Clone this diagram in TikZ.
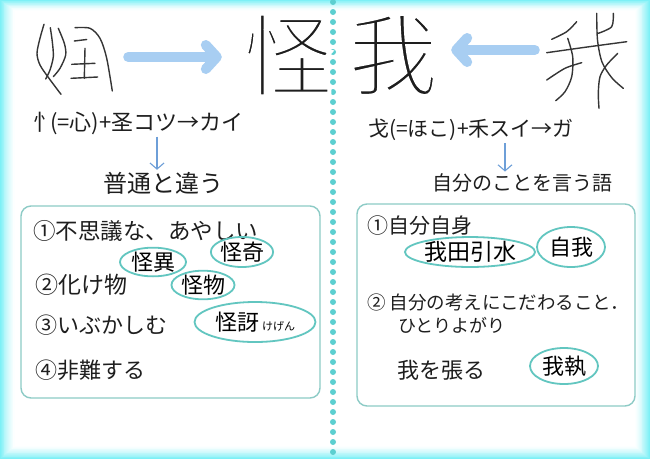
\documentclass[tikz,border=0pt]{standalone}
\usepackage{fontspec}
\setmainfont{Noto Sans CJK JP}
\usetikzlibrary{arrows.meta,shapes.geometric}
\definecolor{glow}{HTML}{7DF0F6}
\definecolor{dotc}{HTML}{5CCFD0}
\definecolor{ringc}{HTML}{62C6C0}
\definecolor{boxc}{HTML}{8DCBC6}
\definecolor{arrowc}{HTML}{A8CEF2}
\definecolor{thinarrowc}{HTML}{6E9FD8}
\definecolor{ink}{HTML}{1E1E1E}
\newcommand\thinglyph[1]{\special{pdf:literal direct 2 Tr 4 w 1 1 1 RG}#1\special{pdf:literal direct 0 Tr}}
\tikzset{
  txt/.style={inner sep=0pt, text=ink, font=\fontsize{#1}{#1}\selectfont},
  ring/.style={ellipse, draw=ringc, line width=1.8pt, inner sep=0pt},
  notebox/.style={draw=boxc, line width=1.4pt, rounded corners=10pt, inner sep=0pt},
  sealstroke/.style={draw=ink!90, line width=1.4pt, line cap=round, line join=round},
  bigarrow/.style={draw=arrowc, line width=10pt, line cap=round,
     -{Straight Barb[round,length=11pt,width=24pt]}},
  thinarr/.style={draw=thinarrowc, line width=1.1pt,
     -{Straight Barb[length=6pt,width=14pt]}},
  sealbox/.style={inner sep=0pt, minimum width=#1, minimum height=76pt},
}
\begin{document}
\begin{tikzpicture}[x=1pt,y=-1pt]
\useasboundingbox (0,0) rectangle (650,459);
\fill[white] (0,0) rectangle (650,459);
% glow border
\foreach \i in {0,...,15} {
  \pgfmathsetmacro\p{100*(1-\i/16)^1.4}
  \draw[draw=glow!\p!white, line width=1.3pt]
    (\i*0.9+0.6, \i*0.65+0.6) rectangle (650-\i*0.95-0.6, 459-\i*0.8-0.6);
}
% dotted divider
\foreach \y in {2,12,...,459} \fill[dotc] (333,\y) circle (3);

% ---------- left half ----------
\node[sealbox=80pt] (sealL) at (73,57) {};
\draw[sealstroke] plot[smooth] coordinates {(44,24.3) (40,38.3) (37,53.3) (40,65) (49,78.3) (61,94.3)};
\draw[sealstroke] plot[smooth] coordinates {(50.3,27.7) (52.3,41.7) (53.3,56.7) (50,70) (45.7,79)};
\draw[sealstroke] plot[smooth] coordinates {(58.3,28.3) (64.3,43.3) (65.7,55) (60,68.3) (53.3,76.7)};
\draw[sealstroke] plot[smooth] coordinates {(75,27.7) (90,28.3) (100,38.3) (106.7,58.3) (112.3,91)};
\draw[sealstroke] (74.3,41) -- (86.7,39.5);
\draw[sealstroke] (71.7,64.3) -- (95,63.3);
\draw[sealstroke] (85,48.3) -- (84.3,78.3);
\draw[sealstroke] (71,78.3) -- (97.7,77);

\node[txt=90] (big1) at (288,55) {\thinglyph{怪}};
\draw[bigarrow, shorten <=15pt, shorten >=21pt] (sealL.east) -- (sealL.east -| big1.west);

\node[txt=22, anchor=west] (formL) at (33,123) {忄\hspace{-5pt}(=心)+圣コツ→カイ};
\node[txt=24] (meanL) at (163,183) {普通と違う};
\coordinate (tL) at (157,0);
\draw[thinarr, shorten <=2pt, shorten >=2pt] (formL.south -| tL) -- (meanL.north -| tL);

\node[notebox, minimum width=299pt, minimum height=192pt] (boxL) at (170.5,302) {};
\node[txt=22.5, anchor=west] (l1) at (33,231) {①不思議な、あやしい};
\node[txt=23, anchor=west] (l2) at (35,285) {②化け物};
\node[txt=22, anchor=west] (l3) at (35,325) {③いぶかしむ};
\node[txt=22, anchor=west] (l4) at (35,370) {④非難する};
\node[ring, minimum width=66pt, minimum height=27pt] (e1) at (153,262) {\fontsize{22}{22}\selectfont 怪異};
\node[ring, minimum width=60pt, minimum height=30pt] (e2) at (242,252) {\fontsize{22}{22}\selectfont 怪奇};
\node[ring, minimum width=63pt, minimum height=24pt] (e3) at (203,285) {\fontsize{22}{22}\selectfont 怪物};
\node[ring, minimum width=121pt, minimum height=40pt] (e4) at (255,322) {\fontsize{22}{22}\selectfont 怪訝\hspace{3pt}\fontsize{11}{11}\selectfont けげん};

% ---------- right half ----------
\node[sealbox=84pt] (sealR) at (586,60) {};
\draw[sealstroke] plot[smooth] coordinates {(576.7,21.7) (566.7,31.7) (551.7,39.3)};
\draw[sealstroke] plot[smooth] coordinates {(546.7,52.7) (585,47.3) (626.7,41.7)};
\draw[sealstroke] plot[smooth] coordinates {(567.7,38.3) (572.7,56.7) (571.7,76.7) (565,91.7) (555.7,100.7)};
\draw[sealstroke] plot[smooth] coordinates {(581.7,62.7) (565,68.3) (546.7,80)};
\draw[sealstroke] plot[smooth] coordinates {(613.3,13.3) (611.7,26.7) (598.3,33.3)};
\draw[sealstroke] plot[smooth] coordinates {(596.7,13.3) (597.5,40) (602,62) (612,78) (623.3,88.3)};
\draw[sealstroke] plot[smooth] coordinates {(617.7,53.3) (606.7,65) (600,76.7) (598.3,93.3) (599,108.3)};

\node[txt=90] (big2) at (393,55) {\thinglyph{我}};
\draw[bigarrow, shorten <=9pt, shorten >=13pt] ([yshift=10pt]sealR.west) -- ([yshift=10pt]sealR.west -| big2.east);

\node[txt=21, anchor=west] (formR) at (368,130) {戈(=ほこ)+禾スイ→ガ};
\node[txt=20] (meanR) at (522,183) {自分のことを言う語};
\coordinate (tR) at (505,0);
\draw[thinarr, shorten <=2pt, shorten >=2pt] (formR.south -| tR) -- (meanR.north -| tR);

\node[notebox, minimum width=278pt, minimum height=202pt] (boxR) at (496,305) {};
\node[txt=21, anchor=west] (r1) at (367,226) {①自分自身};
\node[txt=18.5, anchor=west] (r2) at (367,302) {② 自分の考えにこだわること．};
\node[txt=18, anchor=west] (r3) at (398,325) {ひとりよがり};
\node[txt=22, anchor=west] (r4) at (397,370) {我を張る};
\node[ring, minimum width=130pt, minimum height=29pt] (f1) at (470,252) {\fontsize{23}{23}\selectfont 我田引水};
\node[ring, minimum width=68pt, minimum height=40pt] (f2) at (571,247) {\fontsize{22}{22}\selectfont 自我};
\node[ring, minimum width=68pt, minimum height=36pt] (f3) at (564,366) {\fontsize{22}{22}\selectfont 我執};
\end{tikzpicture}
\end{document}
